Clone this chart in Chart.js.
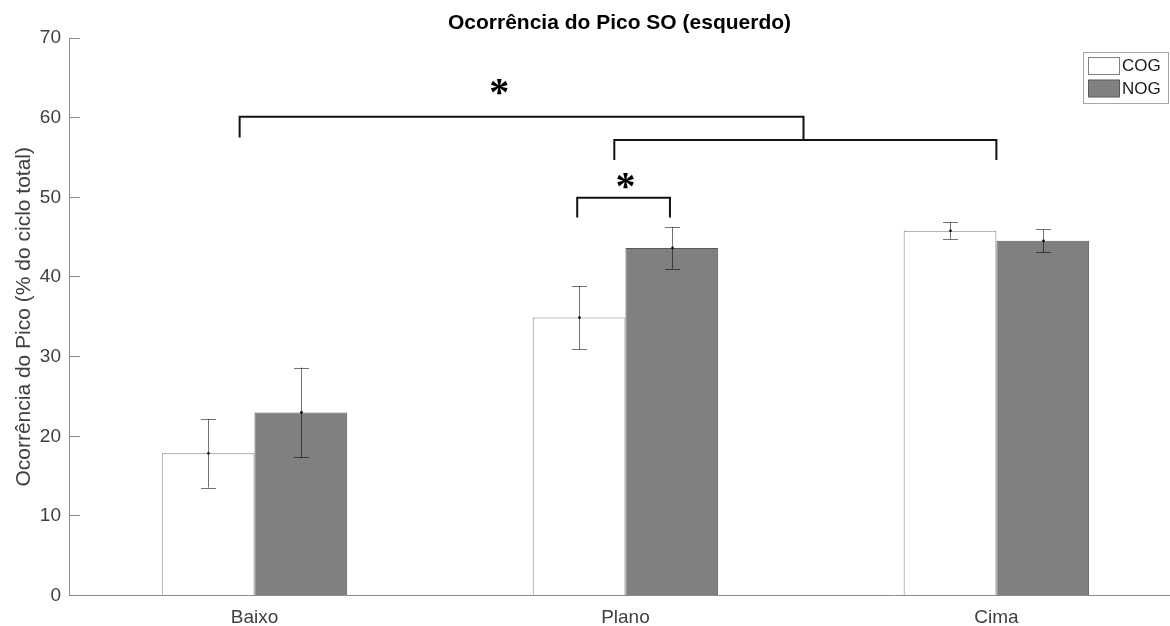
<!DOCTYPE html>
<html>
<head>
<meta charset="utf-8">
<script src="https://cdn.jsdelivr.net/npm/chart.js@4"></script>
<style>
  body { margin: 0; background: #fff; }
  #wrap { width: 1170px; height: 626px; }
</style>
</head>
<body>
<div id="wrap"><canvas id="chart" width="1170" height="626"></canvas></div>
<script>
// categories and their positions on the x axis
const categories = ["Baixo", "Plano", "Cima"];
const catPos = [1, 2, 3];

// mean values and error (+/-) per group
const cogMean = [17.86, 34.9, 45.8];
const cogErr = [4.3, 3.96, 1.05];
const nogMean = [23.0, 43.65, 44.55];
const nogErr = [5.63, 2.6, 1.42];

const yTicks = [0, 10, 20, 30, 40, 50, 60, 70];

// significance brackets: [xLeft, xRight, yTop, yLeftEnd, yRightEnd]
const sigBrackets = [
  [0.96, 2.48, 60.1, 57.5, 57.2],
  [1.97, 3.0, 57.2, 54.7, 54.7],
  [1.87, 2.12, 49.96, 47.46, 47.46],
];
const sigStarX = [1.66, 2.0];
const sigStarY = [63.9, 52.0];

const FONT = "'Liberation Sans', Arial, Helvetica, sans-serif";

// error bars, mean dots, brackets, stars and the boxed legend
const extras = {
  id: "extras",
  afterDatasetsDraw(chart) {
    const ctx = chart.ctx;
    const xs = chart.scales.x;
    const ys = chart.scales.y;
    const errs = [cogErr, nogErr];
    const means = [cogMean, nogMean];

    ctx.save();
    // error bars
    chart.data.datasets.forEach((ds, i) => {
      const meta = chart.getDatasetMeta(i);
      meta.data.forEach((bar, j) => {
        const x = Math.round(bar.x) + 0.5;
        const yTop = ys.getPixelForValue(means[i][j] + errs[i][j]);
        const yBot = ys.getPixelForValue(means[i][j] - errs[i][j]);
        ctx.strokeStyle = "rgba(0,0,0,0.55)";
        ctx.lineWidth = 1;
        ctx.beginPath();
        ctx.moveTo(x, yTop);
        ctx.lineTo(x, yBot);
        ctx.moveTo(x - 7.5, Math.round(yTop) + 0.5);
        ctx.lineTo(x + 7.5, Math.round(yTop) + 0.5);
        ctx.moveTo(x - 7.5, Math.round(yBot) + 0.5);
        ctx.lineTo(x + 7.5, Math.round(yBot) + 0.5);
        ctx.stroke();
        ctx.fillStyle = "#000";
        ctx.beginPath();
        ctx.arc(x, ys.getPixelForValue(means[i][j]), 1.3, 0, Math.PI * 2);
        ctx.fill();
      });
    });

    // brackets
    ctx.strokeStyle = "#111";
    ctx.lineWidth = 2;
    ctx.lineJoin = "miter";
    sigBrackets.forEach((b) => {
      const x1 = xs.getPixelForValue(b[0]);
      const x2 = xs.getPixelForValue(b[1]);
      ctx.beginPath();
      ctx.moveTo(x1, ys.getPixelForValue(b[3]));
      ctx.lineTo(x1, ys.getPixelForValue(b[2]));
      ctx.lineTo(x2, ys.getPixelForValue(b[2]));
      ctx.lineTo(x2, ys.getPixelForValue(b[4]));
      ctx.stroke();
    });

    // stars
    ctx.fillStyle = "#000";
    ctx.font = "bold 40px 'Liberation Serif', 'Times New Roman', serif";
    ctx.textAlign = "center";
    ctx.textBaseline = "alphabetic";
    sigStarX.forEach((sx, k) => {
      const m = ctx.measureText("*");
      const cy = ys.getPixelForValue(sigStarY[k]);
      const off = (m.actualBoundingBoxAscent - m.actualBoundingBoxDescent) / 2;
      ctx.fillText("*", xs.getPixelForValue(sx), cy + off);
    });

    // legend box
    const lx = 1083.5, ly = 52.5, lw = 85, lh = 51;
    ctx.fillStyle = "#fff";
    ctx.fillRect(lx, ly, lw, lh);
    ctx.strokeStyle = "#a6a6a6";
    ctx.lineWidth = 1;
    ctx.strokeRect(lx, ly, lw, lh);
    ctx.font = "17px " + FONT;
    ctx.textAlign = "left";
    ctx.textBaseline = "middle";
    chart.data.datasets.forEach((ds, i) => {
      const sy = 57.5 + i * 22.5;
      ctx.fillStyle = ds.backgroundColor;
      ctx.fillRect(1088.5, sy, 31, 17);
      ctx.strokeStyle = ds.borderColor;
      ctx.strokeRect(1088.5, sy, 31, 17);
      ctx.fillStyle = "#1a1a1a";
      ctx.fillText(ds.label, 1122, sy + 9);
    });
    ctx.restore();
  },
};

const ctx = document.getElementById("chart").getContext("2d");
new Chart(ctx, {
  type: "bar",
  data: {
    datasets: [
      {
        label: "COG",
        data: catPos.map((p, i) => ({ x: p, y: cogMean[i] })),
        backgroundColor: "#ffffff",
        borderColor: "#808080",
        borderWidth: 1,
        categoryPercentage: 0.5,
        barPercentage: 1,
      },
      {
        label: "NOG",
        data: catPos.map((p, i) => ({ x: p, y: nogMean[i] })),
        backgroundColor: "#808080",
        borderColor: "#5a5a5a",
        borderWidth: 1,
        categoryPercentage: 0.5,
        barPercentage: 1,
      },
    ],
  },
  options: {
    responsive: false,
    animation: false,
    layout: { padding: 0 },
    scales: {
      x: {
        type: "linear",
        offset: false,
        min: 0.5,
        max: 3.468,
        afterBuildTicks: (s) => {
          s.ticks = catPos.map((v) => ({ value: v }));
        },
        afterFit: (s) => {
          s.height = 29;
        },
        grid: { display: false, drawTicks: false },
        border: { display: true, color: "#8c8c8c", width: 1 },
        ticks: {
          padding: 11,
          color: "#404040",
          font: { family: FONT, size: 19 },
          callback: (v) => categories[catPos.indexOf(v)] || "",
        },
      },
      y: {
        min: 0,
        max: 70,
        afterBuildTicks: (s) => {
          s.ticks = yTicks.map((v) => ({ value: v }));
        },
        afterFit: (s) => {
          s.width = 69;
        },
        grid: {
          drawOnChartArea: false,
          drawTicks: true,
          tickLength: -11,
          color: "#8c8c8c",
        },
        border: { display: true, color: "#8c8c8c", width: 1 },
        ticks: {
          padding: 19,
          color: "#404040",
          font: { family: FONT, size: 19 },
        },
        title: {
          display: true,
          text: "Ocorrência do Pico (% do ciclo total)",
          color: "#404040",
          font: { family: FONT, size: 21 },
          padding: { top: 12, bottom: 0 },
        },
      },
    },
    plugins: {
      legend: { display: false },
      tooltip: { enabled: false },
      title: {
        display: true,
        fullSize: false,
        text: "Ocorrência do Pico SO (esquerdo)",
        color: "#000",
        font: { family: FONT, size: 21, weight: "bold" },
        padding: { top: 11, bottom: 1.8 },
      },
    },
  },
  plugins: [extras],
});
</script>
</body>
</html>
